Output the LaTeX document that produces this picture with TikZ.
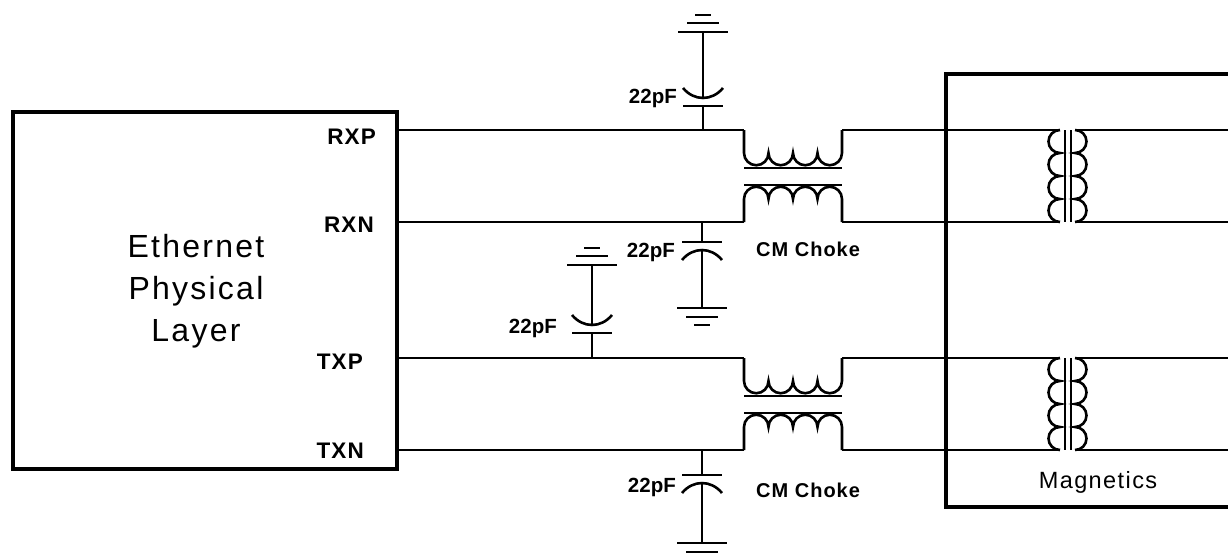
\documentclass[tikz,border=0pt]{standalone}
\usepackage{fontspec}
\setmainfont{Liberation Sans}
\usetikzlibrary{positioning}

\begin{document}
\begin{tikzpicture}
[x=1pt,y=-1pt,
wire/.style={line width=2.6pt},
block/.style={draw,line width=4.8pt},
pinlabel/.style={font=\bfseries\fontsize{22.5}{26}\selectfont\addfontfeatures{LetterSpace=5},anchor=east,inner sep=0pt},
capval/.style={font=\bfseries\fontsize{20.5}{24}\selectfont,anchor=base east,inner sep=0pt},
chokelabel/.style={font=\bfseries\fontsize{20}{24}\selectfont\addfontfeatures{LetterSpace=5},anchor=base west,inner sep=0pt},
phytext/.style={font=\fontsize{32}{38}\selectfont\addfontfeatures{LetterSpace=7},anchor=base,inner sep=0pt},
magtext/.style={font=\fontsize{23.5}{28}\selectfont\addfontfeatures{LetterSpace=6},anchor=base,inner sep=0pt},
%
cap/.pic={
  \coordinate (-t) at (0,0);
  \coordinate (-b) at (0,8);
  \draw[wire] (-20,0) -- (20,0);
  \draw[wire] (-20,18) .. controls (-9,4.7) and (9,4.7) .. (20,18);
},
gnd/.pic={
  \coordinate (-t) at (0,0);
  \draw[wire] (-25,0) -- (25,0) (-16,9) -- (16,9) (-8,17) -- (8,17);
},
choke/.pic={
  \coordinate (-a) at (0,0);
  \coordinate (-b) at (98,0);
  \coordinate (-c) at (0,92);
  \coordinate (-d) at (98,92);
  \draw[wire] (0,0) -- (0,23)
    arc[start angle=180,end angle=0,radius=12.25] arc[start angle=180,end angle=0,radius=12.25]
    arc[start angle=180,end angle=0,radius=12.25] arc[start angle=180,end angle=0,radius=12.25] -- (98,0);
  \draw[wire] (0,38) -- (98,38) (0,55) -- (98,55);
  \draw[wire] (0,92) -- (0,69)
    arc[start angle=180,end angle=360,radius=12.25] arc[start angle=180,end angle=360,radius=12.25]
    arc[start angle=180,end angle=360,radius=12.25] arc[start angle=180,end angle=360,radius=12.25] -- (98,92);
},
xfmr/.pic={
  \coordinate (-p1) at (0,0);
  \coordinate (-p2) at (0,92);
  \coordinate (-s1) at (15,0);
  \coordinate (-s2) at (15,92);
  \draw[wire] (0,0)
    arc[start angle=270,end angle=90,radius=11.5] arc[start angle=270,end angle=90,radius=11.5]
    arc[start angle=270,end angle=90,radius=11.5] arc[start angle=270,end angle=90,radius=11.5];
  \draw[wire] (15,0)
    arc[start angle=270,end angle=450,radius=11.5] arc[start angle=270,end angle=450,radius=11.5]
    arc[start angle=270,end angle=450,radius=11.5] arc[start angle=270,end angle=450,radius=11.5];
  \draw[wire] (5,0) -- (5,92) (11,0) -- (11,92);
}]

\useasboundingbox (0,0) rectangle (1228,554);

% PHY block
\node (phy) [block,minimum width=384pt,minimum height=357pt] at (205,290.5) {};
\node (eth1) [phytext] at (196,257) {Ethernet};
\node (eth2) [phytext] at (196,299) {Physical};
\node (eth3) [phytext] at (196,341) {Layer};

\node (rxpl) [pinlabel] at (376,137) {RXP};
\node (rxnl) [pinlabel] at (374,225) {RXN};
\node (txpl) [pinlabel] at (363,362) {TXP};
\node (txnl) [pinlabel] at (364,451) {TXN};

\coordinate (rxp) at (397,130);
\coordinate (rxn) at (397,222);
\coordinate (txp) at (397,358);
\coordinate (txn) at (397,450);

% magnetics block
\coordinate (mag1) at (1228,74);
\coordinate (mag2) at (946,74);
\coordinate (mag3) at (946,507);
\coordinate (mag4) at (1228,507);
\draw[line width=4.8pt] (mag1) -- (mag2) -- (mag3) -- (mag4);
\node (magl) [magtext] at (1098,488) {Magnetics};

% chokes and transformers
\pic (rxchoke) at (744,130) {choke};
\pic (txchoke) at (744,358) {choke};
\pic (rxxf) at (1060,130) {xfmr};
\pic (txxf) at (1060,358) {xfmr};

\node (rxcml) [chokelabel] at (756,256) {CM Choke};
\node (txcml) [chokelabel] at (756,497) {CM Choke};

\coordinate (rxout1) at (1228,130);
\coordinate (rxout2) at (1228,222);
\coordinate (txout1) at (1228,358);
\coordinate (txout2) at (1228,450);

\draw[wire] (rxp) -- (rxchoke-a);
\draw[wire] (rxn) -- (rxchoke-c);
\draw[wire] (txp) -- (txchoke-a);
\draw[wire] (txn) -- (txchoke-c);
\draw[wire] (rxchoke-b) -- (rxxf-p1);
\draw[wire] (rxchoke-d) -- (rxxf-p2);
\draw[wire] (txchoke-b) -- (txxf-p1);
\draw[wire] (txchoke-d) -- (txxf-p2);
\draw[wire] (rxxf-s1) -- (rxout1);
\draw[wire] (rxxf-s2) -- (rxout2);
\draw[wire] (txxf-s1) -- (txout1);
\draw[wire] (txxf-s2) -- (txout2);

% filter capacitors
\coordinate (j1) at (703,130);
\coordinate (j2) at (702,222);
\coordinate (j3) at (592,358);
\coordinate (j4) at (702,450);

\pic (c1) [yscale=-1] at (703,106) {cap};
\pic (g1) [yscale=-1] at (703,32) {gnd};
\pic (c2) at (702,242) {cap};
\pic (g2) at (702,308) {gnd};
\pic (c3) [yscale=-1] at (592,333) {cap};
\pic (g3) [yscale=-1] at (592,265) {gnd};
\pic (c4) at (702,475) {cap};
\pic (g4) at (702,543) {gnd};

\draw[wire] (j1) -- (c1-t) (c1-b) -- (g1-t);
\draw[wire] (j2) -- (c2-t) (c2-b) -- (g2-t);
\draw[wire] (j3) -- (c3-t) (c3-b) -- (g3-t);
\draw[wire] (j4) -- (c4-t) (c4-b) -- (g4-t);

\node (c1l) [capval] at (677,103) {22pF};
\node (c2l) [capval] at (675,257) {22pF};
\node (c3l) [capval] at (557,333) {22pF};
\node (c4l) [capval] at (676,492) {22pF};

\end{tikzpicture}
\end{document}
